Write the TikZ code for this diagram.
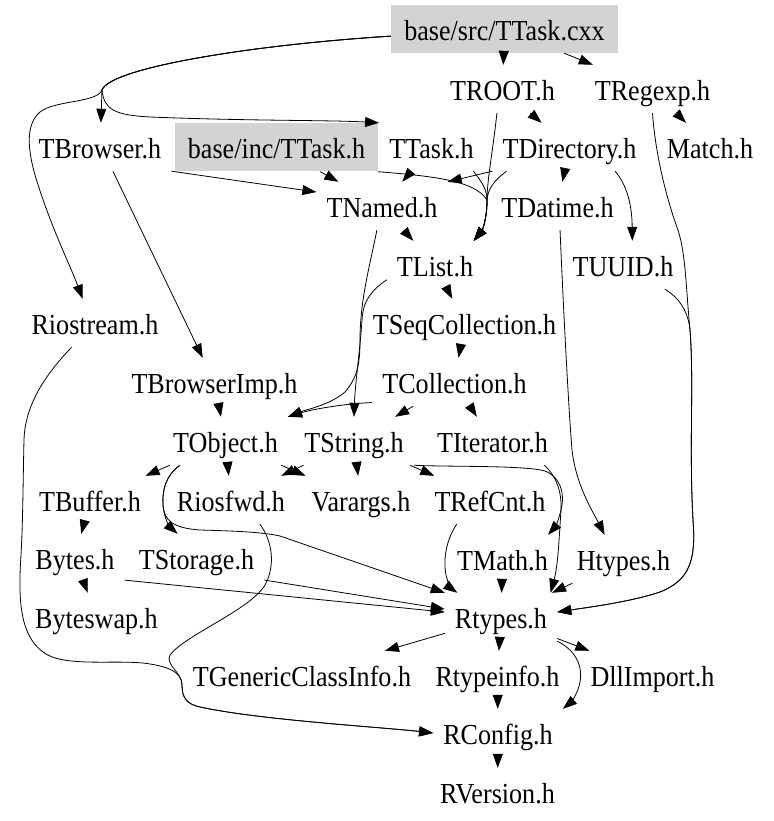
\documentclass[tikz,border=0pt]{standalone}
\usepackage{fontspec}
\setmainfont{Liberation Serif}[FakeStretch=0.9]
\usepackage{tikz}
\usetikzlibrary{arrows.meta}
\definecolor{curgray}{RGB}{211,211,211}

\begin{document}
\begin{tikzpicture}[x=1pt, y=-1pt,
		hdr/.style={inner xsep=10pt, inner ysep=0pt, minimum height=48pt,
			text height=26pt, text depth=3pt, font=\fontsize{29}{34}\selectfont},
		cur/.style={hdr, fill=curgray},
		dep/.style={-{Triangle[length=14pt,width=10pt]}, line width=.8pt}]
		\useasboundingbox (0,0) rectangle (773,821);
		\node[cur, minimum width=227pt] (cxx) at (504.5,29) {base/src/TTask.cxx};
		\node[cur, minimum width=203pt] (tinc) at (276.5,147.5) {base/inc/TTask.h};
		\foreach \n/\x/\y/\t in {troot/502.5/89/TROOT.h, tregexp/652.5/89/TRegexp.h,
			tbrowser/100/147/TBrowser.h, ttask/431.5/147/TTask.h, tdir/569.5/147/TDirectory.h,
			match/710/147/Match.h, tnamed/382/206/TNamed.h, tdatime/557.5/206/TDatime.h,
			tlist/435/265/TList.h, tuuid/623/265/TUUID.h, riostream/95/323/Riostream.h,
			tseq/464.5/323/TSeqCollection.h, tbimp/214.5/382/TBrowserImp.h,
			tcoll/454.5/382/TCollection.h, tobject/225.5/441/TObject.h, tstring/354/441/TString.h,
			titer/492.5/441/TIterator.h, tbuffer/90/500/TBuffer.h, riosfwd/231/500/Riosfwd.h,
			varargs/361/500/Varargs.h, trefcnt/490/500/TRefCnt.h, bytes/75/558/Bytes.h,
			tstorage/196.5/558/TStorage.h, tmath/502.5/559/TMath.h, htypes/623.5/559/Htypes.h,
			byteswap/96.5/617/Byteswap.h, rtypes/501/617/Rtypes.h,
			tgci/302/675/TGenericClassInfo.h, rtinfo/497.5/675/Rtypeinfo.h,
			dll/652.5/675/DllImport.h, rconfig/498/733/RConfig.h, rversion/497.5/792/RVersion.h}
			\node[hdr] (\n) at (\x,\y) {\t};
		\foreach \a/\b in {cxx/troot, cxx/tregexp, troot/tdir, tregexp/match, tinc/tnamed,
			ttask/tnamed, tdir/tdatime, tnamed/tlist, tlist/tseq, tseq/tcoll, tcoll/tstring,
			tcoll/titer, tbimp/tobject, tobject/tbuffer, tobject/riosfwd, tobject/varargs,
			tstring/riosfwd, tstring/varargs, tstring/trefcnt, tmath/rtypes, htypes/rtypes,
			tbuffer/bytes, bytes/byteswap, rtypes/tgci, rtypes/rtinfo, rtypes/dll,
			rtinfo/rconfig, rconfig/rversion}
			\draw[dep] (\a) -- (\b);
		\draw[dep] (cxx) .. controls (250,45) and (110,68) .. (102,90) -- (tbrowser);
		\draw[dep] (cxx) .. controls (250,45) and (110,68) .. (102,90)
			.. controls (104,110) and (115,115) .. (150,117)
			.. controls (250,121) and (330,120) .. (ttask.north west);
		\draw[dep] (cxx) .. controls (250,45) and (110,68) .. (102,90)
			.. controls (97,103) and (55,100) .. (40,112)
			.. controls (25,125) and (28,150) .. (35,175)
			.. controls (50,225) and (70,265) .. (riostream.117);
		\draw[dep] (troot.257) .. controls (493,150) and (487,180) .. (487,200)
			.. controls (487,222) and (481,232) .. (tlist.32);
		\draw[dep] (tdir.201) .. controls (495,180) and (488,188) .. (487,200)
			.. controls (487,222) and (481,232) .. (tlist.32);
		\draw[dep] (ttask.330) .. controls (480,180) and (487,188) .. (487,200)
			.. controls (487,222) and (481,232) .. (tlist.32);
		\draw[dep] (tinc.south east) .. controls (430,176) and (475,180) .. (487,200)
			.. controls (487,222) and (481,232) .. (tlist.32);
		\draw[dep] (tdir.south west) -- (tnamed.north east);
		\draw[dep] (tdir.332) .. controls (627,185) and (632,205) .. (tuuid.69);
		\draw[dep] (tregexp.south) .. controls (655,150) and (665,195) .. (678,230)
			.. controls (686,255) and (686,290) .. (690,330)
			.. controls (694,380) and (689,450) .. (693,520)
			.. controls (696,560) and (690,580) .. (660,592)
			.. controls (630,602) and (590,607) .. (rtypes.5);
		\draw[dep] (tuuid.330) .. controls (678,297) and (688,310) .. (690,330)
			.. controls (694,380) and (689,450) .. (693,520)
			.. controls (696,560) and (690,580) .. (660,592)
			.. controls (630,602) and (590,607) .. (rtypes.5);
		\draw[dep] (tbrowser.south east) -- (tnamed.168);
		\draw[dep] (tbrowser.298) -- (tbimp.116);
		\draw[dep] (tnamed.258) .. controls (370,265) and (360,300) .. (360,340)
			.. controls (360,365) and (357,378) .. (345,392)
			.. controls (330,405) and (305,410) .. (tobject.north east);
		\draw[dep] (tlist.197) .. controls (372,290) and (363,300) .. (362,320)
			.. controls (360,350) and (355,385) .. (tstring.north);
		\draw[dep] (tcoll.194) .. controls (340,404) and (310,410) .. (tobject.north east);
		\draw[dep] (tstring.south east) .. controls (440,467) and (525,465) .. (545,471)
			.. controls (560,477) and (564,492) .. (562,505)
			.. controls (560,517) and (555,527) .. (tmath.28);
		\draw[dep] (titer.335) .. controls (555,475) and (562,490) .. (561,510)
			.. controls (559,540) and (558,565) .. (rtypes.26);
		\draw[dep] (tdatime.276) .. controls (563,300) and (568,400) .. (572,450)
			.. controls (576,485) and (592,510) .. (htypes.128);
		\draw[dep] (trefcnt.216) .. controls (446,540) and (443,560) .. (446,575)
			.. controls (448,584) and (452,589) .. (rtypes.151);
		\draw[dep] (tobject.208) .. controls (166,475) and (162,490) .. (163,505)
			.. controls (164,518) and (170,527) .. (tstorage.128);
		\draw[dep] (tobject.208) .. controls (166,475) and (162,490) .. (163,505)
			.. controls (164,520) and (172,528) .. (200,530)
			.. controls (235,531) and (262,532) .. (280,536) -- (rtypes.north west);
		\draw[dep] (bytes.336) -- (rtypes.175);
		\draw[dep] (tstorage.342) -- (rtypes.172);
		\draw[dep] (riosfwd.320) .. controls (272,540) and (276,565) .. (265,585)
			.. controls (250,610) and (185,635) .. (170,655)
			.. controls (165,665) and (182,672) .. (182,685)
			.. controls (182,697) and (186,704) .. (200,707)
			.. controls (260,720) and (380,727) .. (rconfig.west);
		\draw[dep] (riostream.226) .. controls (45,375) and (25,405) .. (24,440)
			.. controls (23,480) and (23,520) .. (21,555)
			.. controls (18,600) and (20,635) .. (43,652)
			.. controls (62,667) and (110,660) .. (143,663)
			.. controls (168,666) and (182,672) .. (182,685)
			.. controls (182,697) and (186,704) .. (200,707)
			.. controls (260,720) and (380,727) .. (rconfig.west);
		\draw[dep] (rtypes.south east) .. controls (575,650) and (583,665) .. (580,682)
			.. controls (578,694) and (570,703) .. (rconfig.north east);
	\end{tikzpicture}
\end{document}
